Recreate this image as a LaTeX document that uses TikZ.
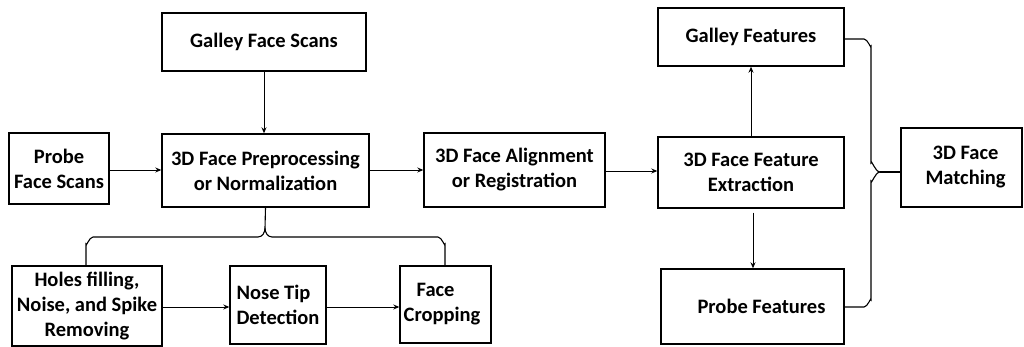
\documentclass[tikz,border=0pt]{standalone}
\usepackage{fontspec}
\setmainfont{Carlito}
\usetikzlibrary{arrows.meta,calc}
\begin{document}
\begin{tikzpicture}[x=1pt,y=-1pt,
  box/.style={draw,line width=1.4pt,inner sep=1pt,font=\fontsize{20.5}{25}\selectfont\bfseries,align=center},
  arr/.style={line width=0.9pt,-{Stealth[length=6pt,width=5pt]}},
  ln/.style={line width=1.1pt}]
\useasboundingbox (0,0) rectangle (1024,347);
\node[box,minimum width=204,minimum height=58] (gscan) at (264,42) {Galley Face Scans};
\node[box,minimum width=100,minimum height=71] (pscan) at (59,168.5) {Probe\\Face Scans};
\node[box,minimum width=207,minimum height=73] (prep) at (265.5,170.5) {3D Face Preprocessing\\or Normalization};
\node[box,minimum width=181,minimum height=74] (align) at (514.5,170) {3D Face Alignment\\or Registration};
\node[box,minimum width=186,minimum height=71] (feat) at (751,172.5) {3D Face Feature\\Extraction};
\node[box,minimum width=186,minimum height=58] (gfeat) at (751,37) {Galley Features};
\node[box,minimum width=121,minimum height=79] (match) at (961.5,167.5) {\hspace*{8pt}3D Face\\\hspace*{8pt}Matching};
\node[box,minimum width=183,minimum height=75] (pfeat) at (752.5,306.5) {\hspace*{18pt}Probe Features};
\node[box,minimum width=150,minimum height=80] (holes) at (87,306) {Holes filling,\\Noise, and Spike\\Removing};
\node[box,minimum width=96,minimum height=78,align=left] (nose) at (278,305) {Nose Tip\\Detection};
\node[box,minimum width=91,minimum height=77,align=left] (crop) at (445.5,304.5) {\hspace*{13pt}Face\\Cropping\hspace*{7pt}};
% arrows
\draw[arr] (gscan.south) -- (prep.north -| gscan.south);
\draw[arr] (pscan.east |- 0,170) -- (prep.west |- 0,170);
\draw[arr] (prep.east |- 0,170) -- (align.west |- 0,170);
\draw[arr] (align.east |- 0,171) -- (feat.west |- 0,171);
\draw[arr] (feat.north) -- (gfeat.south);
\draw[arr] ($(feat.south)+(2,4)$) -- ($(pfeat.north)+(0.5,0)$);
\draw[arr] (holes.east |- 0,307) -- (nose.west |- 0,307);
\draw[arr] (nose.east |- 0,307) -- (crop.west |- 0,307);
% bottom brace
\coordinate (btip) at (265,228);
\draw[ln] (prep.south) -- (btip);
\draw[ln] (btip) to[out=-90,in=0] (258,237) -- (93,237) to[out=180,in=-90] (86,244) -- (86,266);
\draw[ln] (btip) to[out=-90,in=180] (272,237) -- (438,237) to[out=0,in=-90] (445,244) -- (445,266);
% right brace
\coordinate (rtip) at (880,172);
\draw[ln] (gfeat.east |- 0,39) -- (864,39) to[out=0,in=-90] (871,46) -- (871,163) to[out=90,in=180] (rtip);
\draw[ln] (rtip) to[out=180,in=-90] (871,181) -- (871,300) to[out=90,in=0] (864,307) -- (pfeat.east |- 0,307);
\draw[ln] (rtip) -- (match.west |- rtip);
\end{tikzpicture}
\end{document}
